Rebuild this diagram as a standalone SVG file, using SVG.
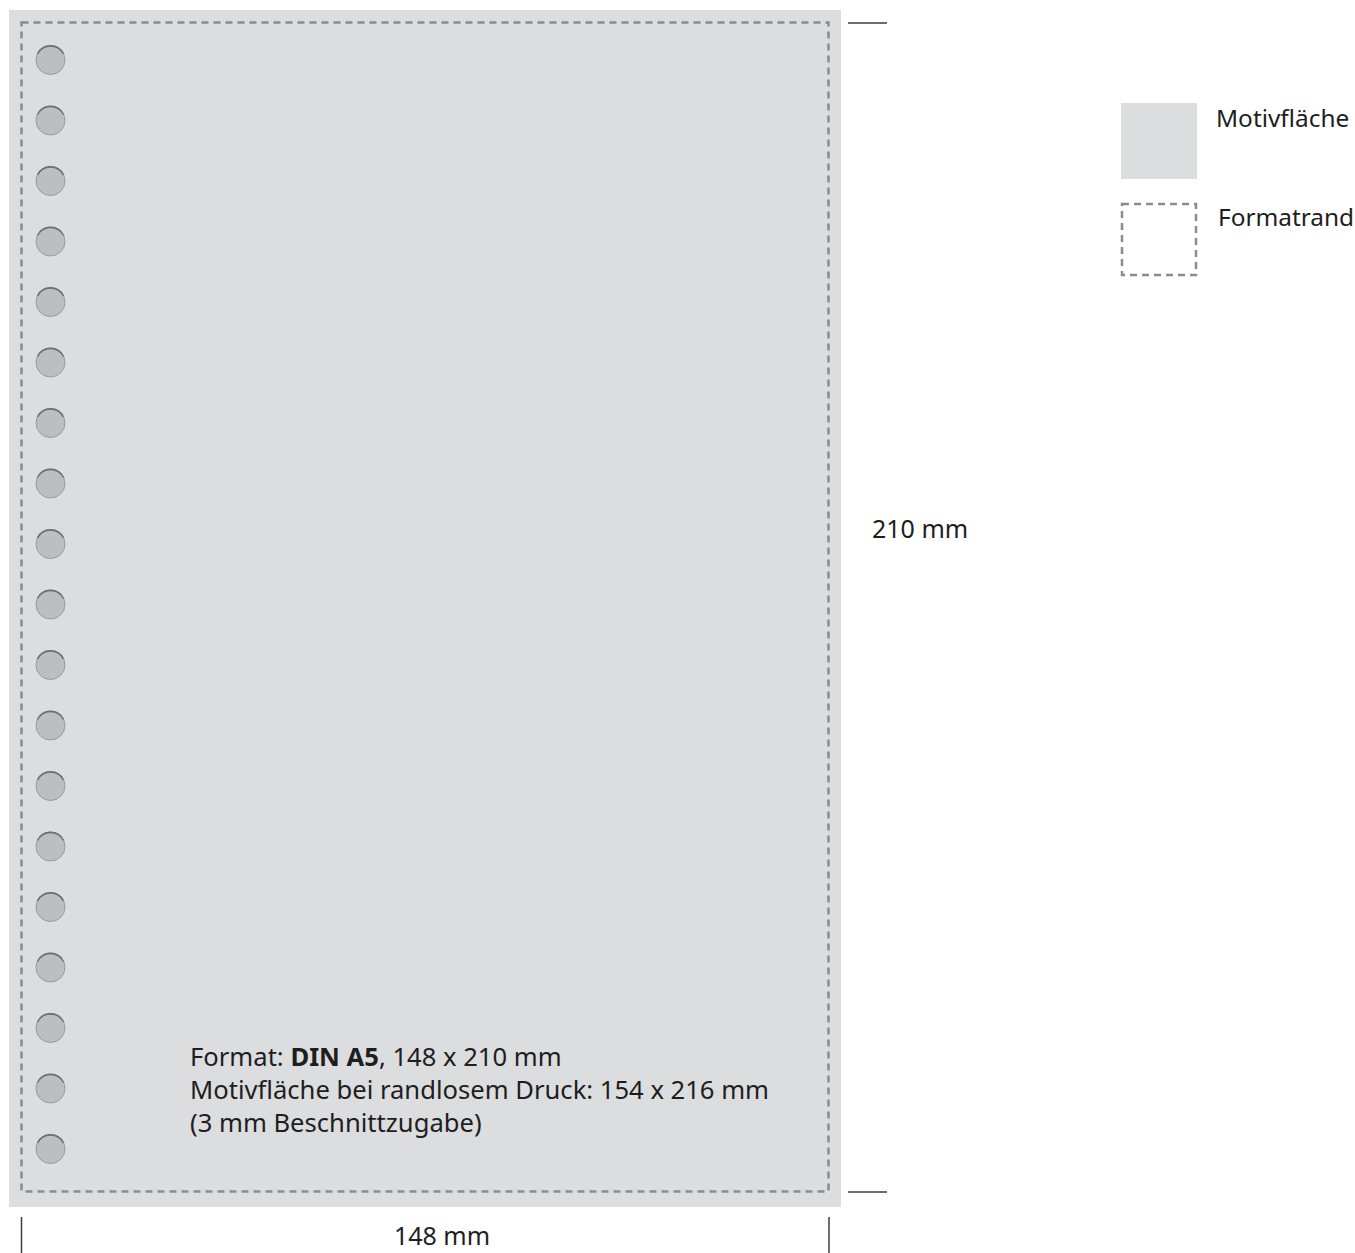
<svg xmlns="http://www.w3.org/2000/svg" width="1355" height="1253" viewBox="0 0 1355 1253">
<style>
.area{fill:#dcdddf}
.dash{fill:none;stroke:#8a8b8d;stroke-width:2.5;stroke-dasharray:7 5}
.tick{stroke:#3c3c3c;stroke-width:1.5}
.t{font-family:"Noto Sans","Open Sans",sans-serif;font-size:25px;fill:#1e1e1e}
.m{font-size:25.6px}
.l{font-size:24.4px}
.b{font-weight:bold}
.hole{fill:#bdbec0;stroke:#9a9b9d;stroke-width:1}
.holetop{fill:none;stroke:#6e6f71;stroke-width:1.6}
</style>
<defs>
<g id="h">
<circle class="hole" cx="0" cy="0" r="14.5"/>
<path class="holetop" d="M-13,-6 A14.5,14.5 0 0 1 13,-6"/>
</g>
</defs>
<g id="sheet">
<rect class="area" x="9" y="10" width="832" height="1197"/>
<rect class="dash" x="21.5" y="22.5" width="807" height="1169"/>
</g>
<g id="holes">
<use href="#h" x="50.5" y="60"/>
<use href="#h" x="50.5" y="120.5"/>
<use href="#h" x="50.5" y="181"/>
<use href="#h" x="50.5" y="241.5"/>
<use href="#h" x="50.5" y="302"/>
<use href="#h" x="50.5" y="362.5"/>
<use href="#h" x="50.5" y="423"/>
<use href="#h" x="50.5" y="483.5"/>
<use href="#h" x="50.5" y="544"/>
<use href="#h" x="50.5" y="604.5"/>
<use href="#h" x="50.5" y="665"/>
<use href="#h" x="50.5" y="725.5"/>
<use href="#h" x="50.5" y="786"/>
<use href="#h" x="50.5" y="846.5"/>
<use href="#h" x="50.5" y="907"/>
<use href="#h" x="50.5" y="967.5"/>
<use href="#h" x="50.5" y="1028"/>
<use href="#h" x="50.5" y="1088.5"/>
<use href="#h" x="50.5" y="1149"/>
</g>
<g id="info">
<text class="t m" x="190" y="1066">Format: <tspan class="b">DIN A5</tspan>, 148 x 210 mm</text>
<text class="t m" x="190" y="1099">Motivfläche bei randlosem Druck: 154 x 216 mm</text>
<text class="t m" x="190" y="1132">(3 mm Beschnittzugabe)</text>
</g>
<g id="dimensions">
<line class="tick" x1="848" y1="23" x2="887" y2="23"/>
<line class="tick" x1="848" y1="1192" x2="887" y2="1192"/>
<line class="tick" x1="21.5" y1="1217" x2="21.5" y2="1253"/>
<line class="tick" x1="829" y1="1217" x2="829" y2="1253"/>
<text class="t" x="872" y="538">210 mm</text>
<text class="t" x="442" y="1245" text-anchor="middle">148 mm</text>
</g>
<g id="legend-motiv">
<rect class="area" x="1121" y="103" width="76" height="76"/>
<text class="t l" x="1216" y="127">Motivfläche</text>
</g>
<g id="legend-format">
<rect class="dash" x="1122" y="204" width="74" height="71"/>
<text class="t l" x="1218" y="226">Formatrand</text>
</g>
</svg>
